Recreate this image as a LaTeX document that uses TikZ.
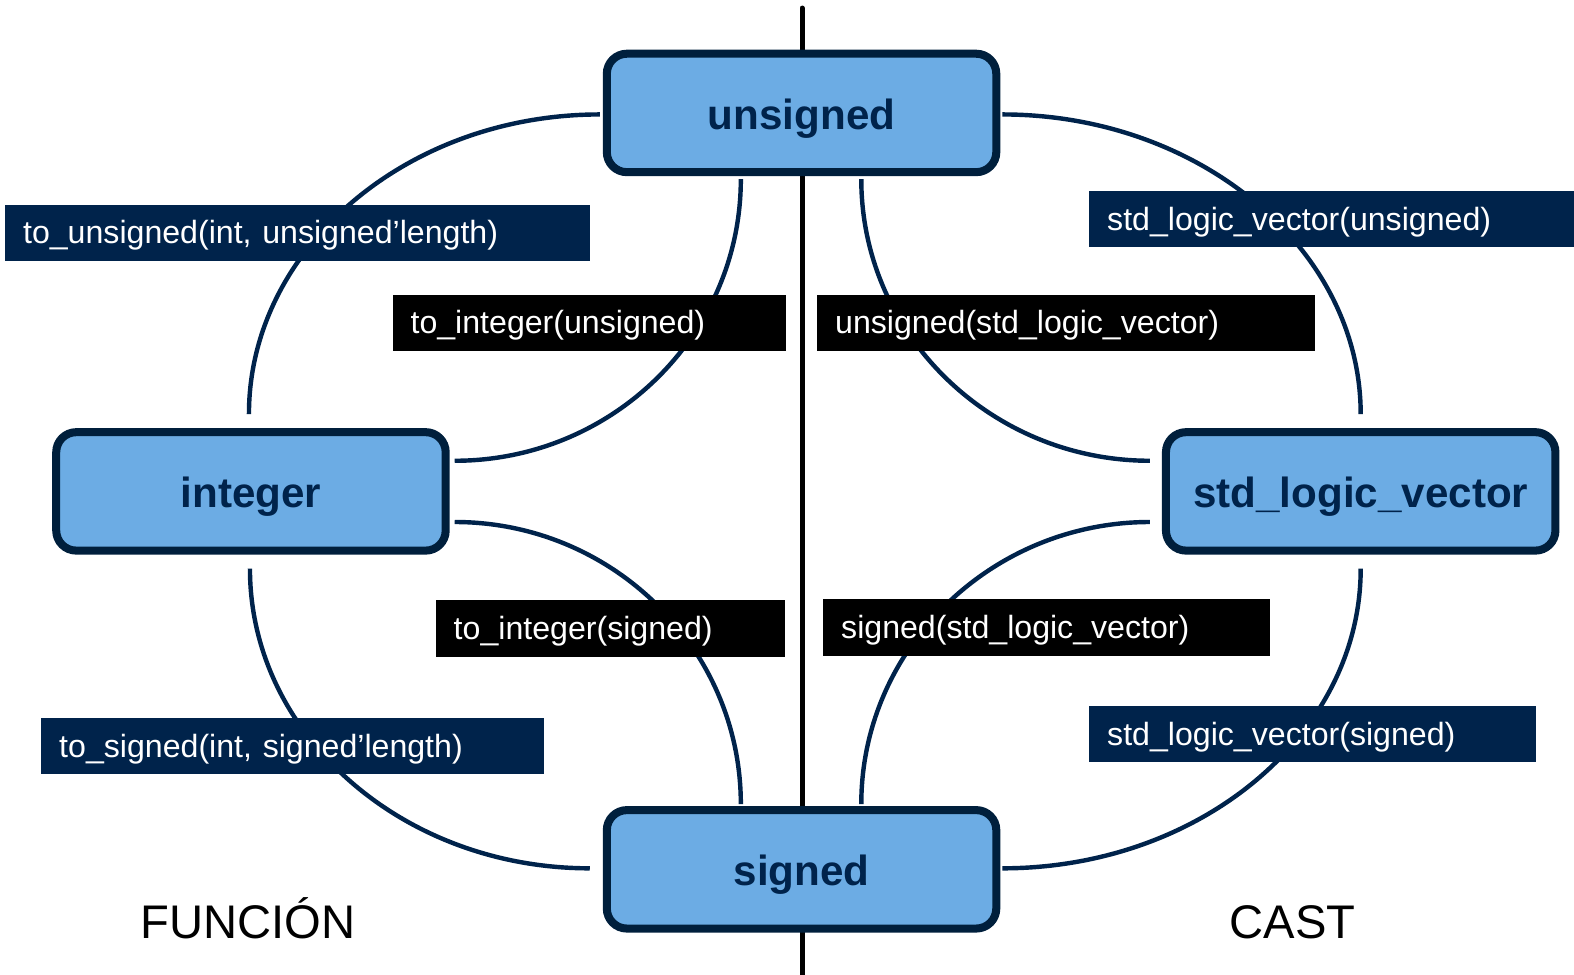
\documentclass[tikz,border=0pt]{standalone}
\usepackage{fontspec}
\setmainfont{Liberation Sans}
\usetikzlibrary{calc}

\definecolor{boxfill}{RGB}{108,172,228}
\definecolor{boxedge}{RGB}{0,31,60}
\definecolor{navy}{RGB}{0,35,75}
\definecolor{wire}{RGB}{0,35,75}

\tikzset{
  typebox/.style={draw=boxedge, line width=4pt, fill=boxfill, rounded corners=10pt,
    minimum width=194pt, minimum height=59pt, inner sep=0pt,
    text height=16.5pt, text depth=0pt,
    font=\fontsize{21pt}{25pt}\selectfont\bfseries, text=navy},
  convlabel/.style={rectangle, inner xsep=9pt, inner ysep=0pt, minimum height=28pt,
    text height=16.5pt, text depth=5.5pt,
    align=left, text=white, font=\fontsize{16pt}{19pt}\selectfont},
  funclabel/.style={convlabel, fill=navy},
  castlabel/.style={convlabel, fill=black},
  conv/.style={draw=wire, line width=2.2pt},
  divider/.style={draw=black, line width=2.5pt, line cap=round},
  sidetitle/.style={anchor=base, font=\fontsize{23.5pt}{28pt}\selectfont}
}

\begin{document}
\begin{tikzpicture}[x=0.5pt, y=-0.5pt]
  \useasboundingbox (0,0) rectangle (1568,971);

  % dividing line between functions and casts
  \coordinate (divtop) at (799,8);
  \coordinate (divbot) at (799,980);
  \draw[divider] (divtop) -- (divbot);

  % the four types
  \node[typebox] (uns) at (798.5,112.5) {unsigned};
  \node[typebox] (int) at (250,489.5) {integer};
  \node[typebox] (slv) at (1355.5,489.5) {std\_logic\_vector};
  \node[typebox] (sgn) at (798.5,866) {signed};

  % outer conversions
  \draw[conv] ($(uns.west)+(-3,1.5)$) .. controls +(-193,0) and +(0,-164) .. ($(int.north)+(-2,-14)$);
  \draw[conv] ($(uns.east)+(2,1.5)$) .. controls +(197,0) and +(0,-164) .. ($(slv.north)+(0,-14)$);
  \draw[conv] ($(int.south)+(-1,14)$) .. controls +(0,165) and +(-187,0) .. ($(sgn.west)+(-13,-1)$);
  \draw[conv] ($(slv.south)+(0,14)$) .. controls +(0,165) and +(197,0) .. ($(sgn.east)+(2,-1)$);

  % inner conversions
  \draw[conv] ($(uns.south)+(-60.5,3)$) .. controls +(0,155) and +(157,0) .. ($(int.east)+(5,-30.5)$);
  \draw[conv] ($(uns.south)+(59.5,3)$) .. controls +(0,155) and +(-158,0) .. ($(slv.west)+(-12,-30.5)$);
  \draw[conv] ($(int.east)+(5,30.5)$) .. controls +(157,0) and +(0,-155) .. ($(sgn.north)+(-60.5,-2)$);
  \draw[conv] ($(slv.west)+(-12,30.5)$) .. controls +(-158,0) and +(0,-155) .. ($(sgn.north)+(59.5,-2)$);

  % conversion labels
  \node[funclabel, text width=273.5pt] (l1) at (296.5,232) {to\_unsigned(int, unsigned’length)};
  \node[castlabel, text width=178pt] (l2) at (587,321.5) {to\_integer(unsigned)};
  \node[castlabel, text width=230pt] (l3) at (1062,321.5) {unsigned(std\_logic\_vector)};
  \node[funclabel, text width=223.5pt] (l4) at (1326.5,218.5) {std\_logic\_vector(unsigned)};
  \node[castlabel, text width=156pt] (l5) at (608,626) {to\_integer(signed)};
  \node[castlabel, text width=204.5pt] (l6) at (1042.5,625) {signed(std\_logic\_vector)};
  \node[funclabel, text width=232.5pt] (l7) at (291.5,743.5) {to\_signed(int, signed’length)};
  \node[funclabel, text width=204.5pt] (l8) at (1307.5,731.5) {std\_logic\_vector(signed)};

  % side titles
  \node[sidetitle] (ftitle) at (247,935) {FUNCIÓN};
  \node[sidetitle] (ctitle) at (1287.5,935) {CAST};
\end{tikzpicture}
\end{document}
